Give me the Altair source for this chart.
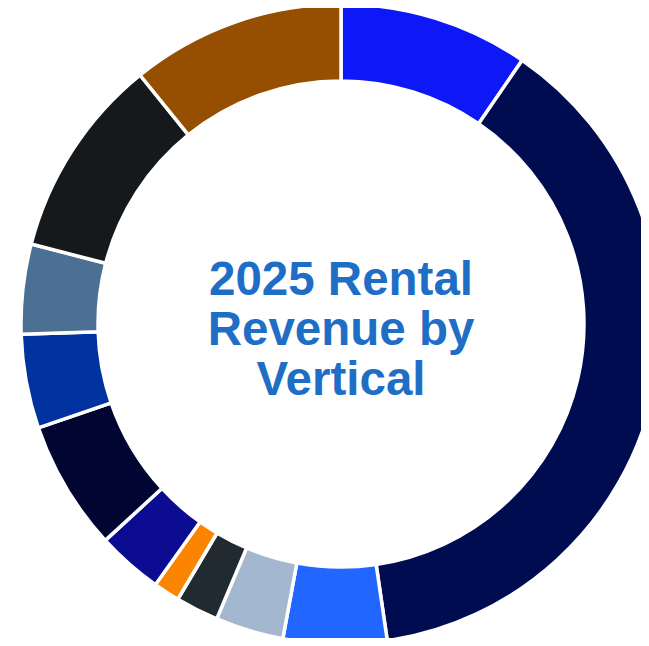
import altair as alt
import pandas as pd

categories = ["Segment 1", "Segment 2", "Segment 3", "Segment 4", "Segment 5", "Segment 6",
              "Segment 7", "Segment 8", "Segment 9", "Segment 10", "Segment 11", "Segment 12"]
values = [9.58, 38.11, 5.22, 3.44, 2.17, 1.33, 3.33, 6.56, 4.75, 4.53, 10.17, 10.81]
colors = ["#0e18f6", "#000c50", "#2066ff", "#a3b8cf", "#212a30", "#fb8500",
          "#0b0c92", "#000631", "#0033a0", "#4c6f94", "#15191c", "#964e00"]
title_text = "2025 Rental\nRevenue by\nVertical"

df = pd.DataFrame({"category": categories, "value": values, "idx": list(range(len(categories)))})

cx, cy = 333, 316

arcs = alt.Chart(df).mark_arc(
    outerRadius=320, innerRadius=243, stroke="white", strokeWidth=3.5
).encode(
    theta=alt.Theta("value:Q", stack=True),
    order=alt.Order("idx:Q"),
    color=alt.Color("category:N", scale=alt.Scale(domain=categories, range=colors), legend=None),
    x=alt.value(cx),
    y=alt.value(cy),
)

label = alt.Chart(pd.DataFrame({"t": [title_text]})).mark_text(
    font="Liberation Sans", fontWeight="bold", fontSize=47.5, lineHeight=50,
    color="#1f6ec6", align="center", baseline="middle", lineBreak="\n"
).encode(
    text="t:N", x=alt.value(cx), y=alt.value(cy - 43)
)

chart = alt.layer(arcs, label).properties(
    width=633, height=630, padding=0,
    autosize=alt.AutoSizeParams(type="none")
).configure_view(stroke=None)

chart.save("out.html", embed_options={"renderer": "svg", "actions": False})
